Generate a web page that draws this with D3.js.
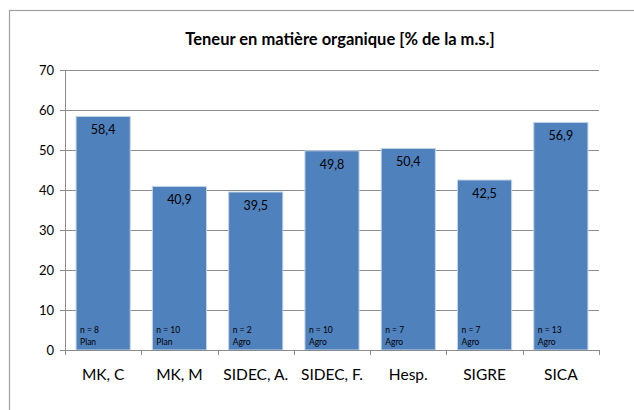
<!DOCTYPE html>
<html>
<head>
<meta charset="utf-8">
<script src="https://cdn.jsdelivr.net/npm/d3@7"></script>
<style>
  body { margin: 0; background: #fff; }
  svg text { font-family: Lato, "Open Sans", sans-serif; fill: #000; }
</style>
</head>
<body>
<div id="chart"></div>
<script>
// chart data
const categories = ['MK, C', 'MK, M', 'SIDEC, A.', 'SIDEC, F.', 'Hesp.', 'SIGRE', 'SICA'];
const values = [58.4, 40.9, 39.5, 49.8, 50.4, 42.5, 56.9];
const counts = [8, 10, 2, 10, 7, 7, 13];
const groups = ['Plan', 'Plan', 'Agro', 'Agro', 'Agro', 'Agro', 'Agro'];
const yTicks = [0, 10, 20, 30, 40, 50, 60, 70];

const W = 634, H = 410;
const margin = { top: 70, right: 35, bottom: 60, left: 65 };
const width = W - margin.left - margin.right;
const height = H - margin.top - margin.bottom;

const svg = d3.select('#chart').append('svg')
  .attr('width', W)
  .attr('height', H);

// outer chart frame (runs off the right and bottom edges)
svg.append('rect')
  .attr('x', 9.5).attr('y', 10.5)
  .attr('width', W + 20).attr('height', H + 20)
  .attr('fill', 'none')
  .attr('stroke', '#a0a0a0')
  .attr('stroke-width', 1.2);

svg.append('text')
  .attr('x', 340).attr('y', 45)
  .attr('text-anchor', 'middle')
  .style('font-size', '16.5px')
  .style('font-weight', 'bold')
  .text('Teneur en matière organique [% de la m.s.]');

const g = svg.append('g')
  .attr('transform', 'translate(' + margin.left + ',' + margin.top + ')');

const x = d3.scaleBand().domain(categories).range([0, width]).paddingInner(0.29).paddingOuter(0.145);
const y = d3.scaleLinear().domain([0, 70]).range([height, 0]);

// gridlines
g.selectAll('.grid')
  .data(yTicks.filter(d => d > 0))
  .enter().append('line')
  .attr('x1', 0).attr('x2', width)
  .attr('y1', d => Math.round(y(d)) + 0.5).attr('y2', d => Math.round(y(d)) + 0.5)
  .attr('stroke', '#8c8c8c');

// y axis
const yAxis = g.append('g')
  .call(d3.axisLeft(y).tickValues(yTicks).tickSize(5).tickPadding(6).tickFormat(d3.format('d')));
yAxis.select('.domain').attr('stroke', '#8c8c8c');
yAxis.selectAll('.tick line').attr('stroke', '#8c8c8c');
yAxis.selectAll('text').style('font-size', '13px').attr('fill', '#000');

// bars
const bars = g.selectAll('.bar')
  .data(categories)
  .enter().append('g');

bars.append('rect')
  .attr('x', d => x(d))
  .attr('width', x.bandwidth())
  .attr('y', (d, i) => y(values[i]))
  .attr('height', (d, i) => height - y(values[i]))
  .attr('fill', '#4f81bd')
  .attr('stroke', '#c6d4e8')
  .attr('stroke-width', 1);

bars.append('text')
  .attr('x', d => x(d) + x.bandwidth() / 2)
  .attr('y', (d, i) => y(values[i]) + 18)
  .attr('text-anchor', 'middle')
  .style('font-size', '12.5px')
  .text((d, i) => values[i].toFixed(1).replace('.', ','));

bars.append('text')
  .attr('x', d => x(d) + 4)
  .attr('y', height - 17)
  .style('font-size', '8.5px')
  .text((d, i) => 'n = ' + counts[i]);

bars.append('text')
  .attr('x', d => x(d) + 4)
  .attr('y', height - 5)
  .style('font-size', '8.5px')
  .text((d, i) => groups[i]);

// x axis with ticks between categories
const xAxis = g.append('g')
  .attr('transform', 'translate(0,' + height + ')');
xAxis.append('line')
  .attr('x1', 0).attr('x2', width)
  .attr('y1', 0.5).attr('y2', 0.5)
  .attr('stroke', '#8c8c8c');
xAxis.selectAll('.xtick')
  .data(d3.range(categories.length + 1))
  .enter().append('line')
  .attr('x1', i => Math.round(i * width / categories.length) + 0.5)
  .attr('x2', i => Math.round(i * width / categories.length) + 0.5)
  .attr('y1', 0).attr('y2', 5)
  .attr('stroke', '#8c8c8c');
xAxis.selectAll('.xlab')
  .data(categories)
  .enter().append('text')
  .attr('x', d => x(d) + x.bandwidth() / 2)
  .attr('y', 30)
  .attr('text-anchor', 'middle')
  .style('font-size', '15.5px')
  .text(d => d);
</script>
</body>
</html>
